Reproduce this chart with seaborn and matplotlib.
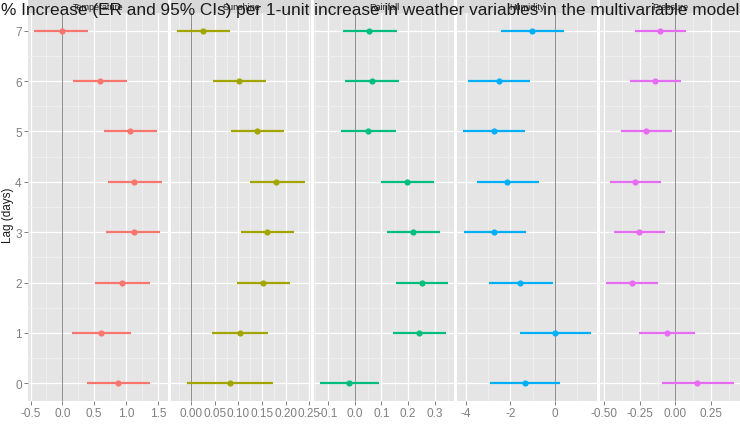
import matplotlib
matplotlib.use("Agg")
import matplotlib.pyplot as plt
from matplotlib.patches import Rectangle
import numpy as np
import pandas as pd
import seaborn as sns

# ---------------- data ----------------
lags = [0, 1, 2, 3, 4, 5, 6, 7]
variables = ["Temperature", "Sunshine", "Rainfall", "Humidity", "Pressure"]

temperature_est = [0.88, 0.61, 0.94, 1.12, 1.125, 1.06, 0.59, 0.00]
temperature_lo = [0.385, 0.145, 0.505, 0.69, 0.71, 0.65, 0.17, -0.44]
temperature_hi = [1.38, 1.08, 1.375, 1.54, 1.56, 1.49, 1.02, 0.40]

sunshine_est = [0.083, 0.104, 0.153, 0.161, 0.180, 0.140, 0.101, 0.026]
sunshine_lo = [-0.008, 0.045, 0.096, 0.106, 0.124, 0.085, 0.046, -0.029]
sunshine_hi = [0.174, 0.163, 0.209, 0.217, 0.240, 0.197, 0.158, 0.083]

rainfall_est = [-0.020, 0.241, 0.251, 0.218, 0.197, 0.050, 0.063, 0.055]
rainfall_lo = [-0.129, 0.143, 0.154, 0.120, 0.099, -0.050, -0.038, -0.046]
rainfall_hi = [0.090, 0.341, 0.348, 0.318, 0.297, 0.153, 0.166, 0.157]

humidity_est = [-1.35, 0.01, -1.55, -2.73, -2.13, -2.75, -2.52, -1.02]
humidity_lo = [-2.91, -1.55, -2.96, -4.10, -3.50, -4.12, -3.92, -2.42]
humidity_hi = [0.23, 1.62, -0.09, -1.31, -0.72, -1.35, -1.13, 0.42]

pressure_est = [0.154, -0.056, -0.304, -0.253, -0.283, -0.206, -0.140, -0.105]
pressure_lo = [-0.095, -0.253, -0.486, -0.430, -0.460, -0.386, -0.318, -0.285]
pressure_hi = [0.411, 0.140, -0.124, -0.074, -0.102, -0.025, 0.040, 0.075]

x_ticks = [
    [-0.5, 0.0, 0.5, 1.0, 1.5],
    [0.00, 0.05, 0.10, 0.15, 0.20, 0.25],
    [-0.1, 0.0, 0.1, 0.2, 0.3],
    [-4, -2, 0],
    [-0.50, -0.25, 0.00, 0.25],
]
x_tick_labels = [
    ["-0.5", "0.0", "0.5", "1.0", "1.5"],
    ["0.00", "0.05", "0.10", "0.15", "0.20", "0.25"],
    ["-0.1", "0.0", "0.1", "0.2", "0.3"],
    ["-4", "-2", "0"],
    ["-0.50", "-0.25", "0.00", "0.25"],
]
title = "% Increase (ER and 95% CIs) per 1-unit increase in weather variables in the multivariable model"
y_label = "Lag (days)"

series = {
    "Temperature": (temperature_est, temperature_lo, temperature_hi),
    "Sunshine": (sunshine_est, sunshine_lo, sunshine_hi),
    "Rainfall": (rainfall_est, rainfall_lo, rainfall_hi),
    "Humidity": (humidity_est, humidity_lo, humidity_hi),
    "Pressure": (pressure_est, pressure_lo, pressure_hi),
}

rows = []
for v in variables:
    est, lo, hi = series[v]
    for lag, e, l, h in zip(lags, est, lo, hi):
        rows.append({"var": v, "lag": lag, "est": e, "lo": l, "hi": h})
df = pd.DataFrame(rows)
df_ci = df.melt(id_vars=["var", "lag"], value_vars=["lo", "hi"], value_name="value")

# ---------------- style ----------------
sns.set_theme(style="white")
plt.rcParams["font.family"] = ["Liberation Sans", "DejaVu Sans"]
plt.rcParams["axes.unicode_minus"] = False

palette = ["#F8766D", "#A3A500", "#00BF7D", "#00B0F6", "#E76BF3"]
W, H = 740, 435
fig, axes = plt.subplots(1, 5, figsize=(W / 100, H / 100), dpi=100)
fig.patch.set_facecolor("white")
left_px, right_px, top_px, bottom_px, gap_px = 28, 740, 14, 402, 3
pw = (right_px - left_px - 4 * gap_px) / 5
fig.subplots_adjust(left=left_px / W, right=right_px / W, top=1 - top_px / H,
                    bottom=1 - bottom_px / H, wspace=gap_px / pw)

ph = bottom_px - top_px
for i, (ax, v) in enumerate(zip(axes, variables)):
    c = palette[i]
    sub = df[df["var"] == v]
    sub_ci = df_ci[df_ci["var"] == v]
    ax.set_facecolor("#E5E5E5")
    sns.lineplot(data=sub_ci, x="value", y="lag", units="lag", estimator=None,
                 color=c, lw=1.6, ax=ax, legend=False, zorder=3,
                 solid_capstyle="butt")
    sns.scatterplot(data=sub, x="est", y="lag", color=c, s=20, linewidth=0,
                    ax=ax, legend=False, zorder=4)
    ax.axvline(0, color="#8A8A8A", lw=0.7, zorder=2)

    lo_all, hi_all = sub["lo"].min(), sub["hi"].max()
    span = hi_all - lo_all
    xmin, xmax = lo_all - 0.05 * span, hi_all + 0.05 * span

    ticks = x_ticks[i]
    ax.set_xticks(ticks)
    ax.set_xticklabels(x_tick_labels[i])
    step = ticks[1] - ticks[0]
    minors = [t + step / 2 for t in [ticks[0] - step] + ticks]
    minors = [m for m in minors if xmin <= m <= xmax]
    ax.set_xticks(minors, minor=True)
    ax.set_yticks(lags)
    ax.set_yticks([l + 0.5 for l in lags[:-1]], minor=True)
    ax.set_xlim(xmin, xmax)
    ax.set_ylim(-0.35, 7.35)

    ax.grid(which="major", color="white", lw=0.9, zorder=0)
    ax.grid(which="minor", color="#F2F2F2", lw=0.5, zorder=0)
    ax.set_axisbelow(True)
    for s in ax.spines.values():
        s.set_visible(False)
    ax.set_xlabel("")
    ax.set_ylabel("")
    ax.tick_params(axis="both", which="major", length=3, width=0.7, color="#7F7F7F",
                   labelcolor="#7F7F7F", labelsize=8.5, pad=1.5)
    ax.tick_params(axis="both", which="minor", length=0)
    ax.tick_params(axis="x", bottom=True)
    if i == 0:
        ax.tick_params(axis="y", left=True, labelleft=True)
    else:
        ax.tick_params(axis="y", left=False, labelleft=False)

    # strip
    sh = 13 / ph
    ax.add_patch(Rectangle((0, 1), 1, sh, transform=ax.transAxes, clip_on=False,
                           facecolor="#D9D9D9", edgecolor="none", zorder=1))
    ax.text(0.5, 1 + sh / 2, v, transform=ax.transAxes, ha="center", va="center",
            fontsize=6.5, color="#1A1A1A")

fig.text(8 / W, 1 - 215 / H, y_label, rotation=90, ha="center", va="center",
         fontsize=8.5, color="#1A1A1A")
fig.text(0.5, 1 - 10 / H, title, ha="center", va="center", fontsize=12.4,
         color="#1A1A1A", zorder=10)

fig.savefig("out.png", dpi=100)
